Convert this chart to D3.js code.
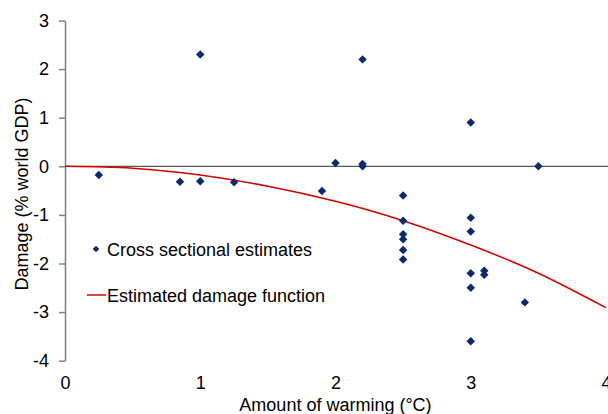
<!DOCTYPE html>
<html>
<head>
<meta charset="utf-8">
<script src="https://cdn.jsdelivr.net/npm/d3@7"></script>
<style>
  body { margin: 0; background: #fff; }
  svg text { font-family: Arial, "Liberation Sans", sans-serif; fill: #000; }
</style>
</head>
<body>
<div id="chart"></div>
<script>
// cross sectional estimates (warming in °C, damage in % of world GDP)
var estWarming = [0.25, 0.85, 1.0, 1.0, 1.25, 1.9, 2.0, 2.2, 2.2, 2.2,
                  2.5, 2.5, 2.5, 2.5, 2.5, 2.5, 3.0, 3.0, 3.0, 3.0, 3.0, 3.0,
                  3.1, 3.1, 3.4, 3.5];
var estDamage  = [-0.18, -0.32, 2.3, -0.31, -0.33, -0.51, 0.07, 2.2, 0.05, 0.0,
                  -0.6, -1.12, -1.4, -1.5, -1.72, -1.92, 0.9, -1.06, -1.34, -2.2, -2.5, -3.6,
                  -2.15, -2.23, -2.8, 0.0];

// estimated damage function
var fnWarming = [0, 0.5, 1, 1.5, 2, 2.5, 3, 3.5, 4];
var fnDamage  = [0, -0.04, -0.18, -0.41, -0.72, -1.12, -1.62, -2.2, -2.91];

var xTicks = [0, 1, 2, 3, 4];
var yTicks = [-4, -3, -2, -1, 0, 1, 2, 3];

var width = 608,
    height = 414;

var navy = "#0b2a6b",
    red = "#d40000";

// plain hyphen minus like the original
var fmt = function (d) { return String(d); };

var svg = d3.select("#chart")
    .append("svg")
    .attr("width", width)
    .attr("height", height);

var x = d3.scaleLinear()
    .domain([0, 4])
    .range([65, 606]);

var y = d3.scaleLinear()
    .domain([-4, 3])
    .range([360.7, 20.5]);

// y axis
var yAxis = svg.append("g")
    .attr("transform", "translate(65,0)")
    .call(d3.axisLeft(y).tickValues(yTicks).tickFormat(fmt)
        .tickSize(6).tickSizeOuter(0).tickPadding(10));
yAxis.select(".domain").attr("stroke", "#808080").attr("stroke-width", 1.5);
yAxis.selectAll(".tick line").attr("stroke", "#808080").attr("stroke-width", 1.5);
yAxis.selectAll("text").style("font-size", "18px").attr("fill", "#000");

// x axis labels (no axis line at the bottom)
var xAxis = svg.append("g")
    .attr("transform", "translate(0,360.7)")
    .call(d3.axisBottom(x).tickValues(xTicks).tickFormat(fmt)
        .tickSize(0).tickPadding(16));
xAxis.select(".domain").remove();
xAxis.selectAll("text").style("font-size", "18px").attr("fill", "#000");

// zero line
svg.append("line")
    .attr("x1", x(0))
    .attr("x2", width)
    .attr("y1", y(0))
    .attr("y2", y(0))
    .attr("stroke", "#555")
    .attr("stroke-width", 1.3);

// damage function
var line = d3.line()
    .x(function (d, i) { return x(fnWarming[i]); })
    .y(function (d) { return y(d); })
    .curve(d3.curveNatural);

svg.append("path")
    .datum(fnDamage)
    .attr("d", line)
    .attr("fill", "none")
    .attr("stroke", red)
    .attr("stroke-width", 1.5);

// estimates
var diamond = d3.symbol().type(d3.symbolSquare).size(36);

svg.append("g")
    .selectAll("path")
    .data(estDamage)
    .enter().append("path")
    .attr("d", diamond)
    .attr("transform", function (d, i) {
        return "translate(" + x(estWarming[i]) + "," + y(d) + ") rotate(45)";
    })
    .attr("fill", navy);

// legend
var legend = svg.append("g");
legend.append("path")
    .attr("d", d3.symbol().type(d3.symbolSquare).size(22))
    .attr("transform", "translate(96,249) rotate(45)")
    .attr("fill", navy);
legend.append("text")
    .attr("x", 107)
    .attr("y", 255.5)
    .style("font-size", "18px")
    .text("Cross sectional estimates");
legend.append("line")
    .attr("x1", 87)
    .attr("x2", 106)
    .attr("y1", 295)
    .attr("y2", 295)
    .attr("stroke", red)
    .attr("stroke-width", 1.5);
legend.append("text")
    .attr("x", 107)
    .attr("y", 301.5)
    .style("font-size", "18px")
    .text("Estimated damage function");

// axis titles
svg.append("text")
    .attr("x", x(2))
    .attr("y", 411)
    .attr("text-anchor", "middle")
    .style("font-size", "18px")
    .text("Amount of warming (°C)");

svg.append("text")
    .attr("transform", "translate(27.5,194) rotate(-90)")
    .attr("text-anchor", "middle")
    .style("font-size", "18px")
    .text("Damage (% world GDP)");
</script>
</body>
</html>
